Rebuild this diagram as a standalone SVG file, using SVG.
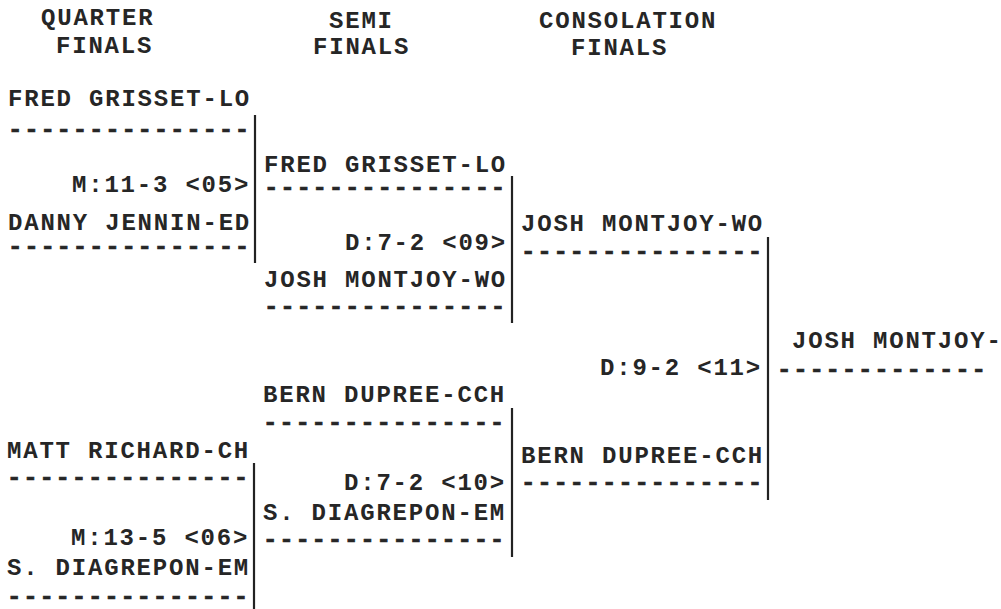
<svg xmlns="http://www.w3.org/2000/svg" width="1001" height="609" viewBox="0 0 1001 609">
<style>
text{font-family:"Liberation Mono","DejaVu Sans Mono",monospace;font-weight:bold;font-size:24px;letter-spacing:1.8px;fill:#262626}
text.d{stroke:#262626;stroke-width:0.7px}
.ln{stroke:#222;stroke-width:2.2;fill:none}
</style>
<rect width="1001" height="609" fill="#fff"/>
<g id="headers">
<text x="41" y="25">QUARTER</text>
<text x="56" y="53">FINALS</text>
<text x="329" y="28">SEMI</text>
<text x="313" y="54">FINALS</text>
<text x="539" y="28">CONSOLATION</text>
<text x="571" y="55">FINALS</text>
</g>
<g id="q1">
<text x="8" y="106">FRED GRISSET-LO</text>
<text class="d" x="8" y="137">---------------</text>
</g>
<g id="q2">
<text x="72" y="192">M:11-3 &lt;05&gt;</text>
<text x="8" y="230">DANNY JENNIN-ED</text>
<text class="d" x="8" y="254">---------------</text>
</g>
<g id="q3">
<text x="7" y="458">MATT RICHARD-CH</text>
<text class="d" x="7" y="485">---------------</text>
</g>
<g id="q4">
<text x="71" y="545">M:13-5 &lt;06&gt;</text>
<text x="7" y="575">S. DIAGREPON-EM</text>
<text class="d" x="7" y="604">---------------</text>
</g>
<g id="s1">
<text x="264" y="172">FRED GRISSET-LO</text>
<text class="d" x="264" y="195">---------------</text>
</g>
<g id="s2">
<text x="345" y="250">D:7-2 &lt;09&gt;</text>
<text x="264" y="287">JOSH MONTJOY-WO</text>
<text class="d" x="264" y="314">---------------</text>
</g>
<g id="s3">
<text x="263" y="402">BERN DUPREE-CCH</text>
<text class="d" x="263" y="430">---------------</text>
</g>
<g id="s4">
<text x="344" y="490">D:7-2 &lt;10&gt;</text>
<text x="263" y="520">S. DIAGREPON-EM</text>
<text class="d" x="263" y="547">---------------</text>
</g>
<g id="c1">
<text x="521" y="231">JOSH MONTJOY-WO</text>
<text class="d" x="521" y="259">---------------</text>
</g>
<g id="c2">
<text x="600" y="375">D:9-2 &lt;11&gt;</text>
<text x="521" y="463">BERN DUPREE-CCH</text>
<text class="d" x="521" y="490">---------------</text>
</g>
<g id="final">
<text x="792" y="348">JOSH MONTJOY-</text>
<text class="d" x="777" y="377">-------------</text>
</g>
<g id="connectors">
<line class="ln" x1="255" y1="115" x2="255" y2="263"/>
<line class="ln" x1="254" y1="463" x2="254" y2="609"/>
<line class="ln" x1="512" y1="176" x2="512" y2="323"/>
<line class="ln" x1="512" y1="408" x2="512" y2="557"/>
<line class="ln" x1="768" y1="237" x2="768" y2="500"/>
</g>
</svg>
